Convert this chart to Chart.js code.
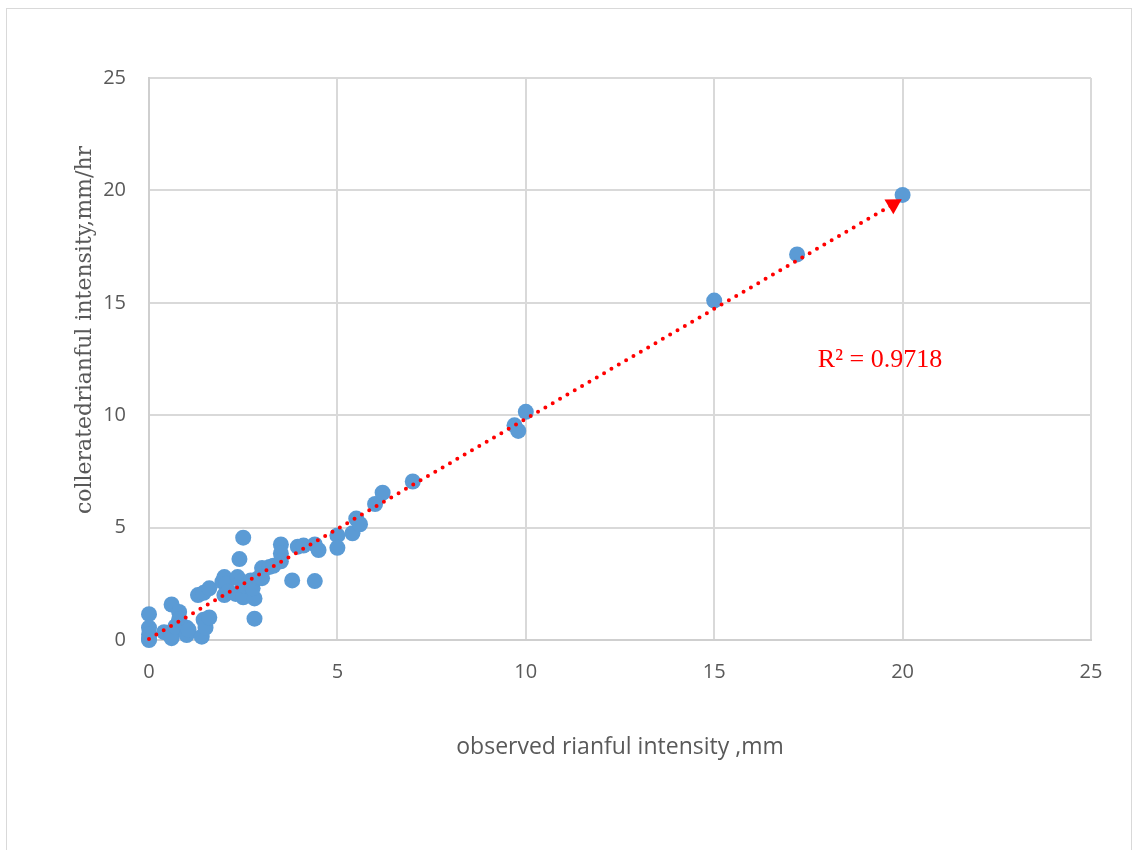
<!DOCTYPE html>
<html>
<head>
<meta charset="utf-8">
<script src="https://cdn.jsdelivr.net/npm/chart.js@4/dist/chart.umd.min.js"></script>
<style>
  html, body { margin: 0; padding: 0; background: #fff; }
  #wrap { position: relative; width: 1133px; height: 850px; overflow: hidden; }
  #frame { position: absolute; left: 6px; top: 8px; width: 1124px; height: 900px; border: 1px solid #d9d9d9; }
  #box { position: absolute; left: 0; top: 0; width: 1133px; height: 850px; }
</style>
</head>
<body>
<div id="wrap">
  <div id="frame"></div>
  <div id="box"><canvas id="chart"></canvas></div>
</div>
<script>
// observed vs correlated rainfall intensity
const observed = [
  0, 0, 0, 0, 0, 0.4, 0.6, 0.6, 0.6, 0.7, 0.8, 0.8, 1.0, 1.0, 1.05,
  1.4, 1.45, 1.5, 1.6, 1.3, 1.45, 1.6, 1.95, 2.0, 2.05, 2.0, 2.1, 2.3,
  2.35, 2.45, 2.5, 2.55, 2.7, 2.8, 2.75, 2.8, 2.9, 3.0, 3.0, 3.2, 3.3,
  2.4, 2.5, 3.5, 3.5, 3.5, 3.8, 4.4, 3.95, 4.1, 4.4, 4.5, 5.0, 5.0,
  5.4, 5.5, 5.6, 6.0, 6.2, 7.0, 9.7, 9.8, 10.0, 15.0, 17.2, 20.0
];
const correlated = [
  1.15, 0.55, 0.25, 0.05, 0.0, 0.35, 1.58, 0.3, 0.08, 0.6, 1.25, 0.92, 0.55, 0.22, 0.45,
  0.15, 0.9, 0.55, 1.0, 2.0, 2.1, 2.3, 2.6, 2.8, 2.5, 2.0, 2.15, 2.05,
  2.8, 2.6, 1.9, 2.4, 2.65, 1.85, 2.3, 0.95, 2.75, 3.2, 2.75, 3.25, 3.3,
  3.6, 4.55, 4.25, 3.85, 3.5, 2.65, 2.62, 4.15, 4.2, 4.25, 4.0, 4.65, 4.1,
  4.75, 5.4, 5.15, 6.05, 6.55, 7.05, 9.55, 9.3, 10.15, 15.1, 17.15, 19.8
];

// linear trendline ends (arrow head sits on the last one)
const trendX = [0, 19.75];
const trendY = [0.05, 19.38];
const rSquared = 'R\u00B2 = 0.9718';

const axisTicks = [0, 5, 10, 15, 20, 25];

const yTitle = 'colleratedrianful intensity,mm/hr';

const blue = '#5B9BD5';
const red = '#FF0000';
const gridColor = '#d9d9d9';
const tickColor = '#595959';

const points = observed.map((x, i) => ({ x: x, y: correlated[i] }));
const trend = trendX.map((x, i) => ({ x: x, y: trendY[i] }));

// R² text next to the trendline, and the serif y-axis title
const extraText = {
  id: 'extraText',
  afterDraw(chart) {
    const { ctx, scales, chartArea } = chart;
    ctx.save();
    ctx.fillStyle = red;
    ctx.font = '26px "Liberation Serif", serif';
    ctx.textAlign = 'center';
    ctx.textBaseline = 'middle';
    ctx.fillText(rSquared, scales.x.getPixelForValue(19.4), scales.y.getPixelForValue(12.45));

    ctx.fillStyle = tickColor;
    ctx.font = '22px "DejaVu Serif", serif';
    ctx.translate(chartArea.left - 64, chartArea.top + 252);
    ctx.rotate(-Math.PI / 2);
    ctx.fillText(yTitle, 0, 0);
    ctx.restore();
  }
};

new Chart(document.getElementById('chart'), {
  type: 'scatter',
  data: {
    datasets: [
      {
        type: 'line',
        data: trend,
        showLine: true,
        borderColor: red,
        backgroundColor: red,
        borderWidth: 4,
        borderDash: [0, 8.5],
        borderCapStyle: 'round',
        pointRadius: [0, 10],
        pointStyle: 'triangle',
        pointRotation: 59,
        pointBorderWidth: 0,
        fill: false,
        clip: false
      },
      {
        data: points,
        backgroundColor: blue,
        borderWidth: 0,
        pointRadius: 8,
        clip: false
      }
    ]
  },
  options: {
    responsive: true,
    maintainAspectRatio: false,
    animation: false,
    events: [],
    layout: { padding: { left: 0, top: 78, right: 42, bottom: 0 } },
    plugins: {
      legend: { display: false },
      tooltip: { enabled: false }
    },
    scales: {
      x: {
        type: 'linear',
        min: 0,
        max: 25,
        afterBuildTicks: s => { s.ticks = axisTicks.map(v => ({ value: v })); },
        afterFit: s => { s.height = 210; },
        grid: { color: gridColor, lineWidth: 2, drawTicks: false },
        border: { color: '#cfcfcf', width: 2 },
        ticks: { color: tickColor, padding: 20, font: { family: 'Open Sans', size: 20 } },
        title: {
          display: true,
          text: 'observed rianful intensity ,mm',
          color: tickColor,
          font: { family: 'Open Sans', size: 23 },
          padding: { top: 0, bottom: 89 }
        }
      },
      y: {
        type: 'linear',
        min: 0,
        max: 25,
        afterBuildTicks: s => { s.ticks = axisTicks.map(v => ({ value: v })); },
        afterFit: s => { s.width = 149; },
        grid: { color: gridColor, lineWidth: 2, drawTicks: false },
        border: { color: '#cfcfcf', width: 2 },
        ticks: { color: tickColor, padding: 23, font: { family: 'Open Sans', size: 20 } }
      }
    }
  },
  plugins: [extraText]
});
</script>
</body>
</html>
